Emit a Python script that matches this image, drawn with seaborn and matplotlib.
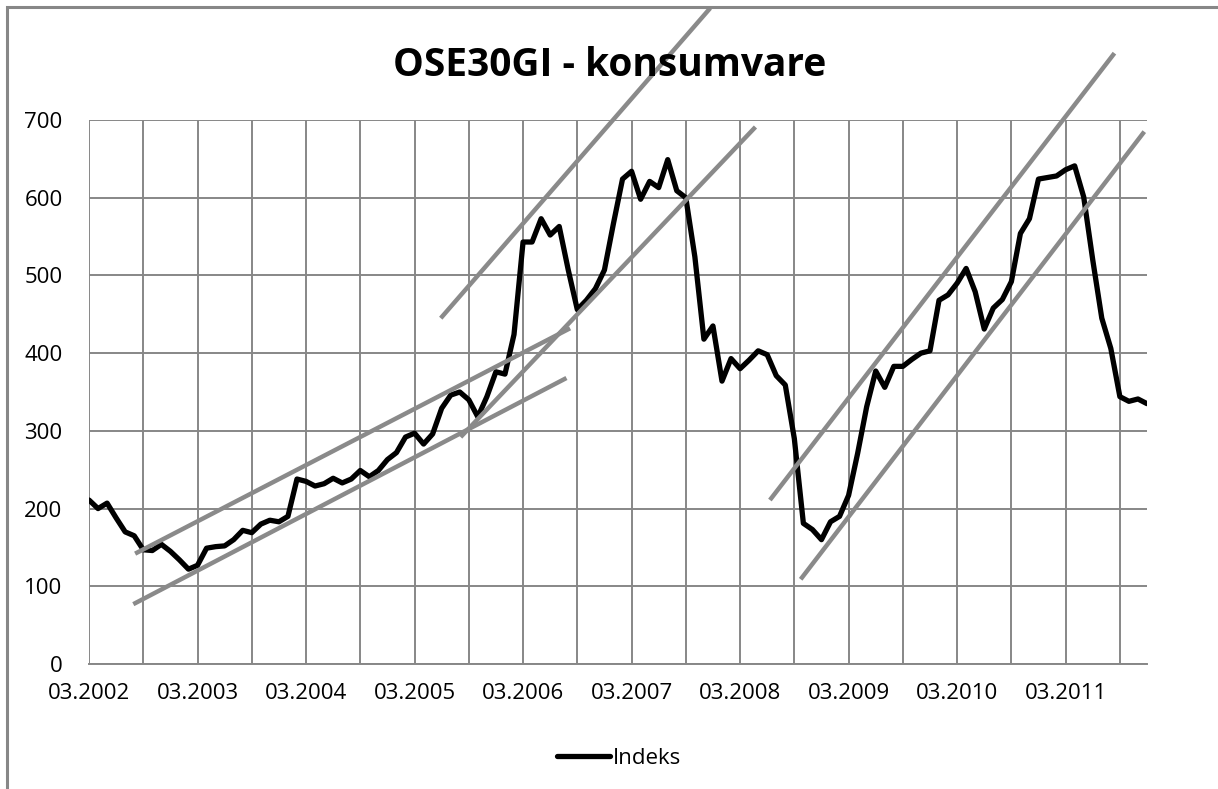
import numpy as np
import pandas as pd
import matplotlib
matplotlib.use("Agg")
import matplotlib.pyplot as plt
import seaborn as sns
from matplotlib.patches import Rectangle

# ---- data (monthly index values, 03.2002 .. 12.2011) ----
indeks = [211, 200, 207, 188, 170, 165, 147, 146, 154, 145, 134, 122,
          127, 149, 151, 152, 160, 172, 169, 180, 185, 183, 190, 238,
          235, 229, 232, 239, 233, 238, 249, 241, 249, 263, 272, 292,
          297, 283, 296, 329, 346, 350, 340, 318, 344, 376, 373, 424,
          543, 543, 573, 552, 563, 507, 456, 468, 483, 507, 567, 624,
          634, 598, 621, 613, 649, 609, 600, 524, 418, 435, 364, 393,
          380, 391, 403, 398, 371, 359, 290, 181, 173, 160, 183, 190,
          217, 271, 331, 377, 356, 383, 383, 392, 400, 403, 468, 475,
          490, 509, 479, 431, 458, 469, 492, 554, 573, 624, 626, 628,
          636, 641, 601, 520, 445, 406, 344, 338, 341, 335]
tick_pos = list(range(0, 109, 12))
tick_labels = ["03.%d" % y for y in range(2002, 2012)]
y_ticks = list(range(0, 701, 100))

# hand drawn trend channels (start month idx, start value, end idx, end value)
trend_x = [[5.1, 53.2], [4.9, 52.8], [41.1, 73.7], [38.9, 68.7], [75.3, 113.4], [78.7, 116.7]]
trend_y = [[142, 432], [77, 368], [292, 691], [445, 844], [211, 786], [109, 685]]

df = pd.DataFrame({"maaned": range(len(indeks)), "Indeks": indeks})

#=================================================================================
sns.set_style("white")
plt.rcParams["font.family"] = ["Open Sans", "DejaVu Sans"]
plt.rcParams["text.color"] = "black"

fig = plt.figure(figsize=(12.18, 7.89), dpi=100)
ax = fig.add_axes([89 / 1218, 125 / 789, 1058 / 1218, 544 / 789])

grid_col = "#878787"
# outer chart border (only top/left are inside the picture)
fig.patches.append(Rectangle((7 / 1218, -0.05), 1.2, (782 / 789) + 0.05,
                             transform=fig.transFigure, fill=False,
                             edgecolor=grid_col, linewidth=2.2))

sns.lineplot(data=df, x="maaned", y="Indeks", ax=ax, color="black",
             linewidth=3.8, label="Indeks", zorder=5)

for xs, ys in zip(trend_x, trend_y):
    ax.plot(xs, ys, color="#8a8a8a", linewidth=3.2, clip_on=False,
            solid_capstyle="butt", zorder=6)

ax.set_xlim(0, len(indeks) - 1)
ax.set_ylim(0, 700)
ax.set_xticks(tick_pos)
ax.set_xticklabels(tick_labels)
ax.set_xticks(list(range(6, 115, 12)), minor=True)
ax.set_yticks(y_ticks)
ax.tick_params(axis="both", which="both", length=0, labelsize=16, colors="black")
ax.tick_params(axis="x", pad=14)
ax.tick_params(axis="y", pad=19)
ax.grid(True, axis="x", which="both", color=grid_col, linewidth=1.4)
ax.grid(True, axis="y", which="major", color=grid_col, linewidth=1.4)
ax.set_axisbelow(True)
for side in ["top", "right", "left"]:
    ax.spines[side].set_visible(False)
ax.spines["bottom"].set_color(grid_col)
ax.spines["bottom"].set_linewidth(1.4)
ax.set_xlabel("")
ax.set_ylabel("")

fig.text(610 / 1218, 1 - 65 / 789, "OSE30GI - konsumvare", ha="center", va="center",
         fontsize=28, fontweight="bold", color="black")

ax.get_legend().remove()
fig.legend(*ax.get_legend_handles_labels(), loc="center", bbox_to_anchor=(0.508, 31 / 789),
           frameon=False, fontsize=16, handlelength=2.4, handletextpad=0.1)

fig.savefig("out.png", dpi=100)
